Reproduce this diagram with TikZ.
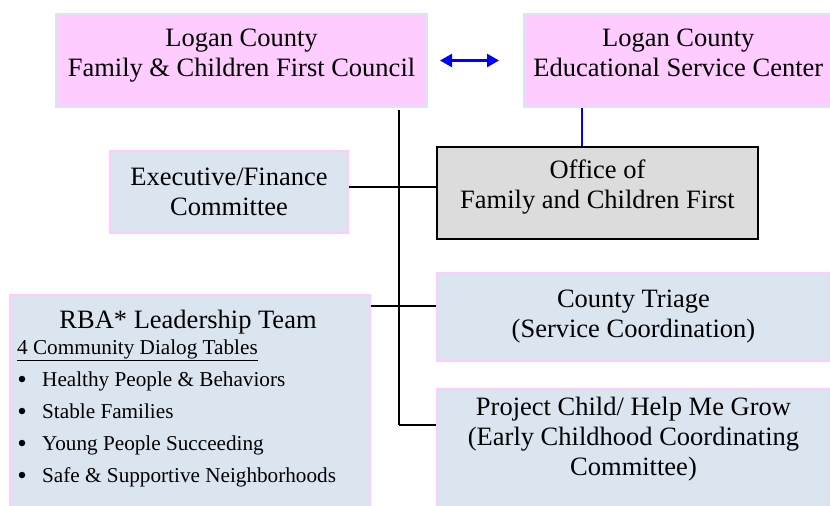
\documentclass[tikz,border=0pt]{standalone}
\usepackage{fontspec}
\setmainfont{Liberation Serif}
\usetikzlibrary{arrows.meta}
\definecolor{pinkfill}{HTML}{FFCCFF}
\definecolor{bluefill}{HTML}{DBE5F0}
\definecolor{grayfill}{HTML}{DCDCDC}
\definecolor{arrowblue}{HTML}{0000FF}
\newcommand{\bigtext}{\fontsize{26.5}{30}\selectfont}
\newcommand{\smalltext}{\fontsize{21.2}{24}\selectfont}
\begin{document}
\begin{tikzpicture}[x=1pt,y=-1pt,
    council/.style={fill=pinkfill,draw=bluefill,line width=2pt,anchor=north west,align=center,font=\bigtext},
    group/.style={fill=bluefill,draw=pinkfill,line width=2pt,anchor=north west,align=center,font=\bigtext},
    office/.style={fill=grayfill,draw=black,line width=2pt,anchor=north west,align=center,font=\bigtext},
    conn/.style={line width=1.6pt,black}]
  \useasboundingbox (0,0) rectangle (830,506);

  % top row
  \node[council,minimum width=371,minimum height=93] (lcfcfc) at (55,13)
    {\begin{tabular}{c}Logan County\\Family \& Children First Council\\[10pt]\end{tabular}};
  \node[council,minimum width=306,minimum height=93] (esc) at (523,13)
    {\begin{tabular}{c}Logan County\\Educational Service Center\\[10pt]\end{tabular}};
  \draw[arrowblue,line width=2.5pt,{Triangle[length=12pt,width=13pt]}-{Triangle[length=12pt,width=13pt]}]
    ([xshift=12]lcfcfc.east) -- ([xshift=-24]esc.west);

  % office and committees
  \node[office,minimum width=321,minimum height=92] (ofcf) at (436,146)
    {\begin{tabular}{c}Office of\\Family and Children First\\[12pt]\end{tabular}};
  \node[group,minimum width=238,minimum height=82] (exec) at (109,150)
    {Executive/Finance\\Committee};
  \node[group,minimum width=393,minimum height=88] (triage) at (436,272)
    {County Triage\\(Service Coordination)};
  \node[group,minimum width=393,minimum height=125] (project) at (436,388)
    {\begin{tabular}{c}Project Child/ Help Me Grow\\(Early Childhood Coordinating\\Committee)\\[24pt]\end{tabular}};

  % RBA team
  \node[group,minimum width=360,minimum height=220] (rba) at (9,294) {};
  \node[font=\bigtext,anchor=base] (rbatitle) at (188,328) {RBA* Leadership Team};
  \node[font=\smalltext,anchor=base west,inner sep=0pt] (dialog) at (17,354) {\underline{4 Community Dialog Tables}};
  \foreach \t [count=\i] in {Healthy People \& Behaviors,Stable Families,Young People Succeeding,Safe \& Supportive Neighborhoods}{
    \node[font=\smalltext,anchor=base west,inner sep=0pt] (tbl\i) at (42,354+32*\i) {\t};
    \node[circle,fill=black,inner sep=0pt,minimum size=6.5pt] (dot\i) at (22,347+32*\i) {};
  }

  % connectors
  \coordinate (trunktop) at (399,110);
  \coordinate (trunkbot) at (399,425);
  \coordinate (rbajoin) at (399,306);
  \draw[conn] (trunktop) -- (trunkbot);
  \draw[conn] (exec.east |- 0,187) -- (ofcf.west |- 0,187);
  \draw[conn] (rba.east |- rbajoin) -- (triage.west |- rbajoin);
  \draw[conn] (trunkbot) -- (project.west |- trunkbot);
  \draw[arrowblue,line width=1.5pt] (esc.south -| 582,0) -- (ofcf.north -| 582,0);
\end{tikzpicture}
\end{document}
